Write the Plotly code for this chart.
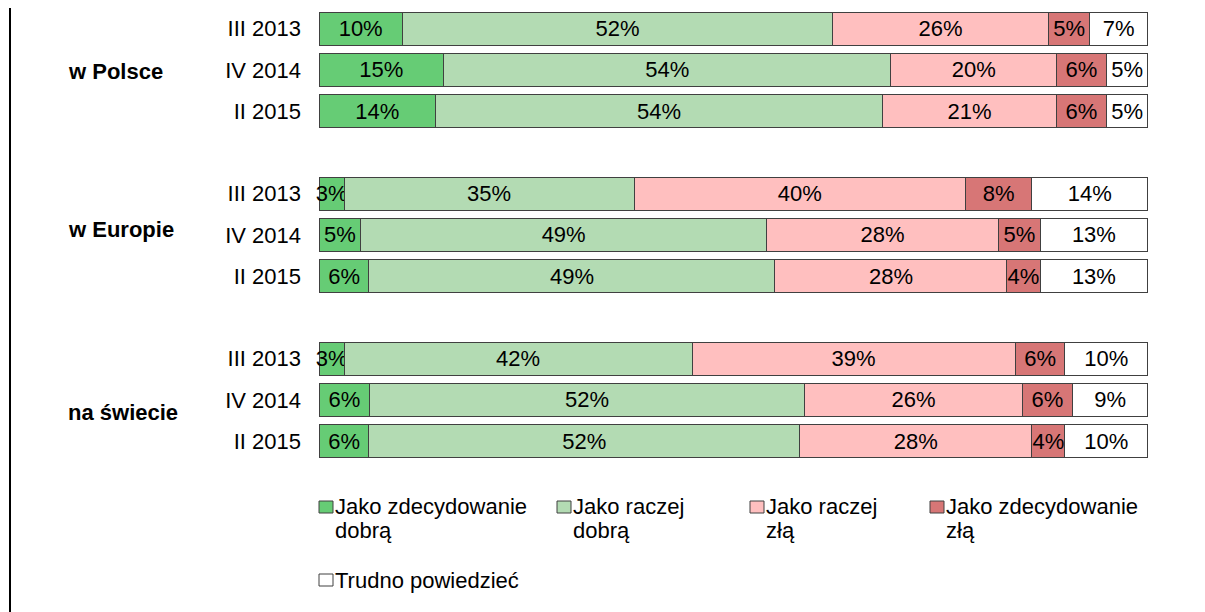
import plotly.graph_objects as go

# ---- data ----
periods = ["III 2013", "IV 2014", "II 2015"]
groups = ["w Polsce", "w Europie", "na świecie"]

series_names = ["Jako zdecydowanie<br>dobrą", "Jako raczej<br>dobrą", "Jako raczej<br>złą",
                "Jako zdecydowanie<br>złą", "Trudno powiedzieć"]
zdec_dobra = [10, 15, 14, 3, 5, 6, 3, 6, 6]
raczej_dobra = [52, 54, 54, 35, 49, 49, 42, 52, 52]
raczej_zla = [26, 20, 21, 40, 28, 28, 39, 26, 28]
zdec_zla = [5, 6, 6, 8, 5, 4, 6, 6, 4]
trudno = [7, 5, 5, 14, 13, 13, 10, 9, 10]

colors = ["#66CC75", "#B3DBB3", "#FFBFBF", "#D77676", "#FFFFFF"]
all_series = [zdec_dobra, raczej_dobra, raczej_zla, zdec_zla, trudno]

# ---- layout helpers ----
OFF = 8  # page body margin
W, H = 1197, 604
ML, MR, MT, MB = 310, 56, 2, 146
PW, PH = W - ML - MR, H - MT - MB

def px_x(p):
    return (p - OFF - ML) / PW

def px_y(p):
    return (H - MB - (p - OFF)) / PH

ypos = []
ylabels = []
for g in range(len(groups)):
    for i, p in enumerate(periods):
        ypos.append(g * 4 + i)
        ylabels.append(p)

FONT = "Liberation Sans, Arial, sans-serif"
FS = 22

fig = go.Figure()
for name, vals, col in zip(series_names, all_series, colors):
    fig.add_trace(go.Bar(
        x=vals, y=ypos, orientation="h", name=name,
        marker=dict(color=col, line=dict(color="#404040", width=1)),
        width=0.8,
        text=[f"{v}%" for v in vals],
        textposition="inside", insidetextanchor="middle", textangle=0,
        textfont=dict(family=FONT, size=FS, color="black"),
        cliponaxis=False,
        showlegend=False,
    ))

annotations = []
group_y = [1.05, 4.88, 9.3]
for gname, gy in zip(groups, group_y):
    annotations.append(dict(
        text=f"<b>{gname}</b>", x=px_x(66), xref="paper", xanchor="left",
        y=gy, yref="y", yanchor="middle", showarrow=False,
        font=dict(family=FONT, size=FS, color="black")))

shapes = []
# legend (manual)
leg_items = [(319, 507), (557, 507), (750, 507), (930, 507), (319, 580)]
for (lx, ly), name, col in zip(leg_items, series_names, colors):
    shapes.append(dict(type="rect", xref="paper", yref="paper",
                       x0=px_x(lx), x1=px_x(lx + 14), y0=px_y(ly - 6), y1=px_y(ly + 6),
                       fillcolor=col, line=dict(color="#404040", width=1)))
    for k, line in enumerate(name.split("<br>")):
        annotations.append(dict(
            text=line, x=px_x(lx + 14), xref="paper", xanchor="left",
            y=px_y(ly + 23 * k), yref="paper", yanchor="middle", align="left",
            showarrow=False, font=dict(family=FONT, size=FS, color="black")))

# left frame line
shapes.append(dict(type="line", xref="paper", yref="paper",
                   x0=px_x(10), x1=px_x(10), y0=px_y(H + 20), y1=px_y(-2),
                   line=dict(color="black", width=2)))

fig.update_layout(
    width=W, height=H,
    margin=dict(l=ML, r=MR, t=MT, b=MB),
    barmode="stack", barnorm="percent",
    paper_bgcolor="white", plot_bgcolor="white",
    uniformtext=dict(minsize=FS, mode="show"),
    xaxis=dict(range=[-0.15, 100.15], visible=False, fixedrange=True),
    yaxis=dict(range=[-0.45 + PH / 41.25, -0.45], tickvals=ypos, ticktext=ylabels,
               showgrid=False, zeroline=False, showline=False,
               ticks="", ticklabelstandoff=16,
               tickfont=dict(family=FONT, size=FS, color="black")),
    annotations=annotations, shapes=shapes,
    font=dict(family=FONT, size=FS, color="black"),
)

fig.write_html("out.html")
